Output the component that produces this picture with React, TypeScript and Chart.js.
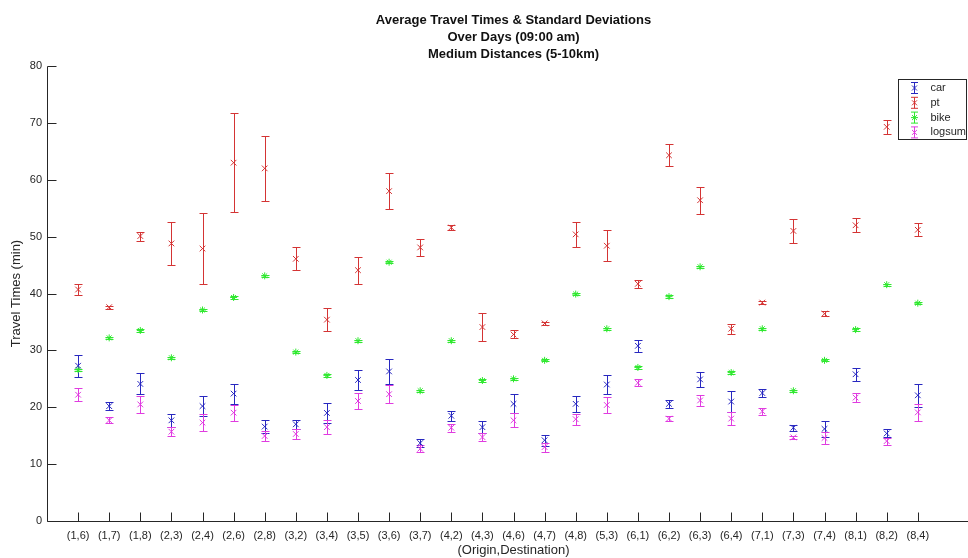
import React, { useEffect, useRef } from 'react';
import { Chart, registerables } from 'chart.js';
import { drawPoint } from 'chart.js/helpers';

Chart.register(...registerables);

const categories = [
  '(1,6)', '(1,7)', '(1,8)', '(2,3)', '(2,4)', '(2,6)', '(2,8)', '(3,2)', '(3,4)', '(3,5)',
  '(3,6)', '(3,7)', '(4,2)', '(4,3)', '(4,6)', '(4,7)', '(4,8)', '(5,3)', '(6,1)', '(6,2)',
  '(6,3)', '(6,4)', '(7,1)', '(7,3)', '(7,4)', '(8,1)', '(8,2)', '(8,4)',
];

const carMean = [27.3, 20.2, 24.1, 17.7, 20.2, 22.4, 16.6, 17.0, 19.0, 24.8, 26.3, 13.7, 18.5, 16.5, 20.6, 14.2, 20.6, 24.0, 30.8, 20.6, 24.9, 21.0, 22.5, 16.4, 16.2, 25.8, 15.4, 22.1];
const carStd = [1.9, 0.65, 1.85, 1.1, 1.7, 1.75, 1.1, 0.8, 1.75, 1.8, 2.2, 0.7, 0.85, 1.0, 1.65, 1.0, 1.45, 1.75, 1.1, 0.75, 1.3, 1.8, 0.75, 0.5, 1.4, 1.1, 0.7, 2.05];

const ptMean = [40.7, 37.6, 50.1, 48.8, 47.9, 63.0, 62.0, 46.1, 35.4, 44.1, 58.0, 48.1, 51.6, 34.1, 32.8, 34.75, 50.4, 48.4, 41.7, 64.3, 56.4, 33.8, 38.4, 51.0, 36.45, 52.0, 69.3, 51.2];
const ptStd = [1.0, 0.25, 0.8, 3.8, 6.3, 8.7, 5.65, 2.05, 2.05, 2.4, 3.2, 1.5, 0.45, 2.4, 0.7, 0.3, 2.2, 2.75, 0.7, 1.9, 2.35, 0.9, 0.2, 2.15, 0.45, 1.25, 1.25, 1.15];

const bikeMean = [26.6, 32.2, 33.5, 28.7, 37.1, 39.3, 43.1, 29.7, 25.6, 31.7, 45.5, 22.9, 31.7, 24.7, 25.0, 28.25, 39.9, 33.8, 27.0, 39.45, 44.7, 26.1, 33.8, 22.9, 28.25, 33.65, 41.55, 38.3];
const bikeStd = [0.2, 0.2, 0.2, 0.2, 0.2, 0.2, 0.2, 0.2, 0.2, 0.2, 0.2, 0.2, 0.2, 0.2, 0.2, 0.2, 0.2, 0.2, 0.2, 0.2, 0.2, 0.2, 0.2, 0.2, 0.2, 0.2, 0.2, 0.2];

const logsumMean = [22.2, 17.7, 20.5, 15.7, 17.3, 19.05, 14.95, 15.3, 16.5, 21.1, 22.3, 12.7, 16.4, 14.75, 17.7, 13.0, 17.9, 20.4, 24.3, 18.0, 21.2, 18.0, 19.3, 14.7, 14.6, 21.7, 14.05, 19.1];
const logsumStd = [1.1, 0.5, 1.45, 0.75, 1.5, 1.4, 0.9, 0.8, 1.2, 1.35, 1.6, 0.6, 0.7, 0.65, 1.25, 0.8, 0.95, 1.4, 0.6, 0.45, 1.0, 1.2, 0.65, 0.3, 1.1, 0.8, 0.6, 1.45];

const seriesLabels = ['car', 'pt', 'bike', 'logsum'];
const yTicks = [0, 10, 20, 30, 40, 50, 60, 70, 80];

const titleLines = [
  'Average Travel Times & Standard Deviations',
  'Over Days (09:00 am)',
  'Medium Distances (5-10km)',
];
const xTitle = '(Origin,Destination)';
const yTitle = 'Travel Times (min)';

const COLORS = ['#2828c0', '#d43434', '#30e830', '#e03ce0'];
const STYLES = ['crossRot', 'crossRot', 'star', 'crossRot'];
const AXIS = '#262626';
const CAP = 4;
const TICK_LEN = 9;

const errorBarPlugin = {
  id: 'errorBars',
  beforeDatasetsDraw(chart: any) {
    const { ctx } = chart;
    const x = chart.scales.x;
    const y = chart.scales.y;
    ctx.save();
    chart.data.datasets.forEach((ds: any, di: number) => {
      if (!chart.isDatasetVisible(di)) return;
      ctx.strokeStyle = ds.borderColor;
      ctx.lineWidth = 1;
      ds.data.forEach((p: any, i: number) => {
        const e = ds.errors[i];
        const px = Math.round(x.getPixelForValue(p.x)) + 0.5;
        const top = Math.round(y.getPixelForValue(p.y + e)) + 0.5;
        const bot = Math.round(y.getPixelForValue(p.y - e)) + 0.5;
        ctx.beginPath();
        ctx.moveTo(px, top);
        ctx.lineTo(px, bot);
        ctx.moveTo(px - CAP, top);
        ctx.lineTo(px + CAP, top);
        ctx.moveTo(px - CAP, bot);
        ctx.lineTo(px + CAP, bot);
        ctx.stroke();
      });
    });
    ctx.restore();
  },
};

const axesPlugin = {
  id: 'matlabAxes',
  afterDatasetsDraw(chart: any) {
    const { ctx, chartArea: a } = chart;
    const x = chart.scales.x;
    const y = chart.scales.y;
    ctx.save();
    ctx.strokeStyle = AXIS;
    ctx.lineWidth = 1;
    const left = Math.round(a.left) + 0.5;
    const bottom = Math.round(a.bottom) + 0.5;
    ctx.beginPath();
    ctx.moveTo(left, Math.round(a.top) + 0.5);
    ctx.lineTo(left, bottom);
    ctx.lineTo(a.right, bottom);
    x.ticks.forEach((t: any) => {
      const px = Math.round(x.getPixelForValue(t.value)) + 0.5;
      ctx.moveTo(px, bottom);
      ctx.lineTo(px, bottom - TICK_LEN);
    });
    y.ticks.forEach((t: any) => {
      const py = Math.round(y.getPixelForValue(t.value)) + 0.5;
      ctx.moveTo(left, py);
      ctx.lineTo(left + TICK_LEN, py);
    });
    ctx.stroke();
    ctx.restore();
  },
};

const legendPlugin = {
  id: 'boxLegend',
  afterDraw(chart: any) {
    const { ctx, chartArea: a } = chart;
    const boxW = 68;
    const boxH = 60;
    const bx = Math.round(a.right - 14 - boxW) + 0.5;
    const by = Math.round(a.top + 13) + 0.5;
    ctx.save();
    ctx.fillStyle = '#ffffff';
    ctx.fillRect(bx, by, boxW, boxH);
    ctx.strokeStyle = AXIS;
    ctx.lineWidth = 1;
    ctx.strokeRect(bx, by, boxW, boxH);
    ctx.font = "11px 'Liberation Sans', Arial, Helvetica, sans-serif";
    ctx.textBaseline = 'middle';
    ctx.textAlign = 'left';
    chart.data.datasets.forEach((ds: any, i: number) => {
      const cy = by + 8.5 + i * 14.8;
      const cx = bx + 16;
      ctx.strokeStyle = ds.borderColor;
      ctx.lineWidth = 1;
      ctx.beginPath();
      ctx.moveTo(cx, cy - 5.5);
      ctx.lineTo(cx, cy + 5.5);
      ctx.moveTo(cx - 3.5, cy - 5.5);
      ctx.lineTo(cx + 3.5, cy - 5.5);
      ctx.moveTo(cx - 3.5, cy + 5.5);
      ctx.lineTo(cx + 3.5, cy + 5.5);
      ctx.stroke();
      ctx.fillStyle = ds.borderColor;
      drawPoint(ctx, { pointStyle: ds.pointStyle, radius: 3.5, borderWidth: 1, rotation: 0 } as any, cx, cy);
      ctx.fillStyle = AXIS;
      ctx.fillText(ds.label, bx + 32, cy);
    });
    ctx.restore();
  },
};

export default function App() {
  const canvasRef = useRef<HTMLCanvasElement | null>(null);

  useEffect(() => {
    document.body.style.margin = '0';
    const canvas = canvasRef.current;
    if (!canvas) return;
    Chart.defaults.font.family = "'Liberation Sans', Arial, Helvetica, sans-serif";
    const means = [carMean, ptMean, bikeMean, logsumMean];
    const stds = [carStd, ptStd, bikeStd, logsumStd];
    const datasets = seriesLabels.map((label, s) => ({
      label,
      data: means[s].map((v, i) => ({ x: i + 1, y: v })),
      errors: stds[s],
      borderColor: COLORS[s],
      backgroundColor: COLORS[s],
      pointStyle: STYLES[s],
      pointRadius: s === 2 ? 3.5 : 4,
      pointBorderWidth: 1,
      showLine: false,
    }));

    const chart = new Chart(canvas, {
      type: 'scatter',
      data: { datasets } as any,
      options: {
        animation: false,
        responsive: false,
        devicePixelRatio: 1,
        layout: { padding: 0 },
        plugins: {
          legend: { display: false },
          tooltip: { enabled: false },
          title: {
            display: true,
            text: titleLines,
            fullSize: false,
            color: '#111111',
            font: { size: 13, weight: 'bold', lineHeight: 17 / 13 },
            padding: { top: 11.5, bottom: 3.5 },
          },
        },
        scales: {
          x: {
            type: 'linear',
            min: 0,
            max: 30,
            grid: { display: false, drawTicks: false },
            border: { display: false },
            afterBuildTicks: (s: any) => {
              s.ticks = categories.map((_, i) => ({ value: i + 1 }));
            },
            afterFit: (s: any) => {
              s.height = 37;
              s.paddingLeft = 0;
              s.paddingRight = 0;
            },
            ticks: {
              autoSkip: false,
              maxRotation: 0,
              minRotation: 0,
              padding: 8,
              color: AXIS,
              font: { size: 11 },
              callback: (v: any) => categories[Number(v) - 1] ?? '',
            },
            title: {
              display: true,
              text: xTitle,
              color: AXIS,
              font: { size: 13 },
              padding: { top: 0, bottom: 0 },
            },
          },
          y: {
            type: 'linear',
            min: 0,
            max: 80,
            afterBuildTicks: (s: any) => {
              s.ticks = yTicks.map((v) => ({ value: v }));
            },
            grid: { display: false, drawTicks: false },
            border: { display: false },
            afterFit: (s: any) => {
              s.width = 47;
              s.paddingTop = 0;
              s.paddingBottom = 0;
            },
            ticks: { padding: 5, color: AXIS, font: { size: 11 } },
            title: {
              display: true,
              text: yTitle,
              color: AXIS,
              font: { size: 13 },
              padding: { top: 9, bottom: 0 },
            },
          },
        },
      } as any,
      plugins: [errorBarPlugin, axesPlugin, legendPlugin],
    });
    return () => chart.destroy();
  }, []);

  return (
    <div style={{ width: 968, height: 558, overflow: 'hidden', position: 'relative', background: '#ffffff' }}>
      <canvas ref={canvasRef} width={985} height={558} style={{ display: 'block' }} />
    </div>
  );
}
